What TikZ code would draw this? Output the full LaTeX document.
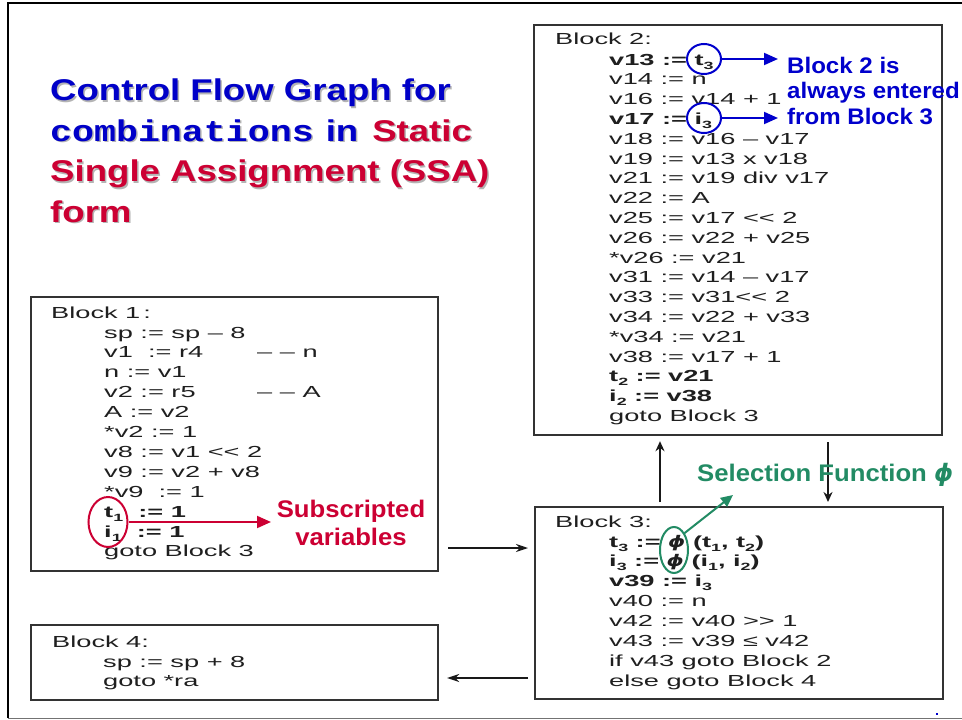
\documentclass[tikz,border=0pt]{standalone}
\usepackage{fontspec}
\usepackage{graphicx}
\usetikzlibrary{shapes.geometric,arrows.meta}
\setmainfont{Liberation Sans}
\newfontfamily\codefont[FakeStretch=1.7]{Liberation Sans}
\newfontfamily\titlefont[FakeStretch=1.22]{Liberation Sans}
\newfontfamily\titlemono[FakeStretch=1.22]{Liberation Mono}
\newfontfamily\lblfont[FakeStretch=1.07]{Liberation Sans}
\newfontfamily\phifont{DejaVu Sans}
\definecolor{ttblue}{HTML}{0000C8}
\definecolor{ttred}{HTML}{CC0033}
\definecolor{ttgreen}{HTML}{228B64}
\definecolor{lblblue}{HTML}{0000CC}
\definecolor{shadowgray}{HTML}{B4B4B4}
\newcommand\sbs[1]{\raisebox{-4pt}{\fontsize{10.5}{11}\selectfont #1}}
\newcommand\PHI{\scalebox{1.35}[1]{\phifont\bfseries\itshape ϕ}}
\newcommand\LL{<\kern0pt<}
\newcommand\GG{>\kern0pt>}
\newcommand\titleB[2]{{\color{#1}\titlemono\bfseries combinations}\hspace{12pt}{\color{#1}in}\hspace{14pt}{\color{#2}Static}}
\begin{document}
\begin{tikzpicture}[x=1pt,y=-1pt,
  blockbox/.style={draw=black!80, line width=2.2pt, anchor=north west, inner sep=0pt},
  code/.style={anchor=base west, inner sep=0pt, text=black!88, font=\codefont\fontsize{16}{18}\selectfont},
  titletext/.style={anchor=base west, inner sep=0pt, font=\titlefont\bfseries\fontsize{30}{36}\selectfont},
  lbl/.style={inner sep=0pt, font=\lblfont\bfseries\fontsize{22.5}{26}\selectfont},
  flow/.style={-{Stealth[length=12pt,width=8pt]}, line width=1.4pt, black!90},
  vflow/.style={-{Stealth[length=10pt,width=9pt]}, line width=2.5pt, black!90},
  ringmark/.style={ellipse, inner sep=0pt, line width=2pt},
  colarrow/.style={-{Triangle[length=14pt,width=12pt]}, line width=2pt}]
\useasboundingbox (0,0) rectangle (962,720);
% slide frame
\draw[line width=2.2pt, black] (8,718) -- (8,3) -- (962,3);
\draw[line width=1.5pt, black!55] (8,718.5) -- (962,718.5);
\fill[blue!80!black] (936,713) rectangle (938,715);

% title
\node[titletext, text=shadowgray] (t1s) at (51.5,102) {Control Flow Graph for};
\node[titletext, text=ttblue] (t1) at (50,100.5) {Control Flow Graph for};
\node[titletext] (t2s) at (51.5,142.5) {\titleB{shadowgray}{shadowgray}};
\node[titletext] (t2) at (50,141) {\titleB{ttblue}{ttred}};
\node[titletext, text=shadowgray] (t3s) at (51.5,183) {Single Assignment (SSA)};
\node[titletext, text=ttred] (t3) at (50,181.5) {Single Assignment (SSA)};
\node[titletext, text=shadowgray] (t4s) at (51.5,223.5) {form};
\node[titletext, text=ttred] (t4) at (50,222) {form};

% blocks
\node[blockbox, minimum width=407pt, minimum height=274pt] (b1) at (30,296) {};
\node[blockbox, minimum width=408pt, minimum height=410pt] (b2) at (533,24) {};
\node[blockbox, minimum width=408pt, minimum height=192pt] (b3) at (534,506) {};
\node[blockbox, minimum width=407pt, minimum height=75pt] (b4) at (30,624) {};

% Block 1 text
\node[code] (b1h) at (51,318) {Block 1\hspace{3pt}:};
\node[code] (b1a) at (104,338) {sp := sp – 8};
\node[code] (b1b) at (104,357.9) {v1 \ := r4};
\node[code] (b1bc) at (257,357.9) {– – n};
\node[code] (b1c) at (104,377.8) {n := v1};
\node[code] (b1d) at (104,397.7) {v2 := r5};
\node[code] (b1dc) at (257,397.7) {– – A};
\node[code] (b1e) at (104,417.6) {A := v2};
\node[code] (b1f) at (104,437.5) {*v2 := 1};
\node[code] (b1g) at (104,457.4) {v8 := v1 \LL\ 2};
\node[code] (b1h2) at (104,477.3) {v9 := v2 + v8};
\node[code] (b1i) at (104,497.2) {*v9 \ := 1};
\node[code] (b1j) at (104,517.1) {\bfseries t\sbs{1} \ := 1};
\node[code] (b1k) at (104,537) {\bfseries i\sbs{1} \ := 1};
\node[code] (b1l) at (104,556.9) {goto Block 3};

% Block 2 text
\node[code] (b2h) at (555,45) {Block 2:};
\node[code] (b2a) at (609,65) {\bfseries v13 := t\sbs{3}};
\node[code] (b2b) at (609,84.8) {v14 := n};
\node[code] (b2c) at (609,104.6) {v16 := v14 + 1};
\node[code] (b2d) at (609,124.4) {\bfseries v17 := i\sbs{3}};
\node[code] (b2e) at (609,144.2) {v18 := v16 – v17};
\node[code] (b2f) at (609,164) {v19 := v13 x v18};
\node[code] (b2g) at (609,183.8) {v21 := v19 div v17};
\node[code] (b2i) at (609,203.6) {v22 := A};
\node[code] (b2j) at (609,223.4) {v25 := v17 \LL\ 2};
\node[code] (b2k) at (609,243.2) {v26 := v22 + v25};
\node[code] (b2l) at (609,263) {*v26 := v21};
\node[code] (b2m) at (609,282.8) {v31 := v14 – v17};
\node[code] (b2n) at (609,302.6) {v33 := v31\LL\ 2};
\node[code] (b2o) at (609,322.4) {v34 := v22 + v33};
\node[code] (b2p) at (609,342.2) {*v34 := v21};
\node[code] (b2q) at (609,362) {v38 := v17 + 1};
\node[code] (b2r) at (609,381.8) {\bfseries t\sbs{2} := v21};
\node[code] (b2s) at (609,401.6) {\bfseries i\sbs{2} := v38};
\node[code] (b2t) at (609,421.4) {goto Block 3};

% Block 3 text
\node[code] (b3h) at (555,527) {Block 3:};
\node[code] (b3a) at (609,547) {\bfseries t\sbs{3} := \PHI\ (t\sbs{1}, t\sbs{2})};
\node[code] (b3b) at (609,566.9) {\bfseries i\sbs{3} := \PHI\ (i\sbs{1}, i\sbs{2})};
\node[code] (b3c) at (609,586.7) {\bfseries v39 := i\sbs{3}};
\node[code] (b3d) at (609,606.6) {v40 := n};
\node[code] (b3e) at (609,626.4) {v42 := v40 \GG\ 1};
\node[code] (b3f) at (609,646.3) {v43 := v39 ≤ v42};
\node[code] (b3g) at (609,666.2) {if v43 goto Block 2};
\node[code] (b3i) at (609,686) {else goto Block 4};

% Block 4 text
\node[code] (b4h) at (52,647) {Block 4:};
\node[code] (b4a) at (103,667) {sp := sp + 8};
\node[code] (b4b) at (103,686) {goto *ra};

% control flow connectors
\coordinate (y13) at (0,548);
\coordinate (y34) at (0,678);
\coordinate (x32) at (660,0);
\coordinate (x23) at (828,0);
\draw[flow, shorten <=9pt, shorten >=6pt] (b1.east |- y13) -- (b3.west |- y13);
\draw[flow, shorten <=6pt, shorten >=8pt] (b3.west |- y34) -- (b1.east |- y34);
\draw[vflow, shorten <=4pt, shorten >=5pt] (b3.north -| x32) -- (b2.south -| x32);
\draw[vflow, shorten <=6pt, shorten >=4pt] (b2.south -| x23) -- (b3.north -| x23);

% annotations: blue
\node[ringmark, draw=lblblue, minimum width=34pt, minimum height=30pt] (bc1) at (704,59) {};
\node[ringmark, draw=lblblue, minimum width=34pt, minimum height=30pt] (bc2) at (704,118) {};
\coordinate (ba1) at (778,59);
\coordinate (ba2) at (778,118);
\draw[colarrow, lblblue] (bc1.east) -- (ba1);
\draw[colarrow, lblblue] (bc2.east) -- (ba2);
\node[lbl, anchor=base west, text=lblblue] (lb1) at (787,73) {Block 2 is};
\node[lbl, anchor=base west, text=lblblue] (lb2) at (787,98.5) {always entered};
\node[lbl, anchor=base west, text=lblblue] (lb3) at (787,124) {from Block 3};

% annotations: red
\node[ringmark, draw=ttred, minimum width=39pt, minimum height=50pt] (rell) at (108,522) {};
\coordinate (ra) at (271,522);
\draw[colarrow, ttred] (rell.east) -- (ra);
\node[lbl, anchor=base, text=ttred, font=\lblfont\bfseries\fontsize{24}{28}\selectfont] (rl1) at (351,517) {Subscripted};
\node[lbl, anchor=base, text=ttred, font=\lblfont\bfseries\fontsize{24}{28}\selectfont] (rl2) at (351,545) {variables};

% annotations: green
\node[ringmark, draw=ttgreen, minimum width=28pt, minimum height=46pt] (gell) at (674,550) {};
\coordinate (ga) at (733,495);
\draw[-{Triangle[length=12pt,width=11pt]}, line width=2pt, ttgreen] (gell.north east) -- (ga);
\node[lbl, anchor=base west, text=ttgreen, font=\lblfont\bfseries\fontsize{24}{28}\selectfont] (gl) at (697,481) {Selection Function {\phifont\itshape ϕ}};
\end{tikzpicture}
\end{document}
